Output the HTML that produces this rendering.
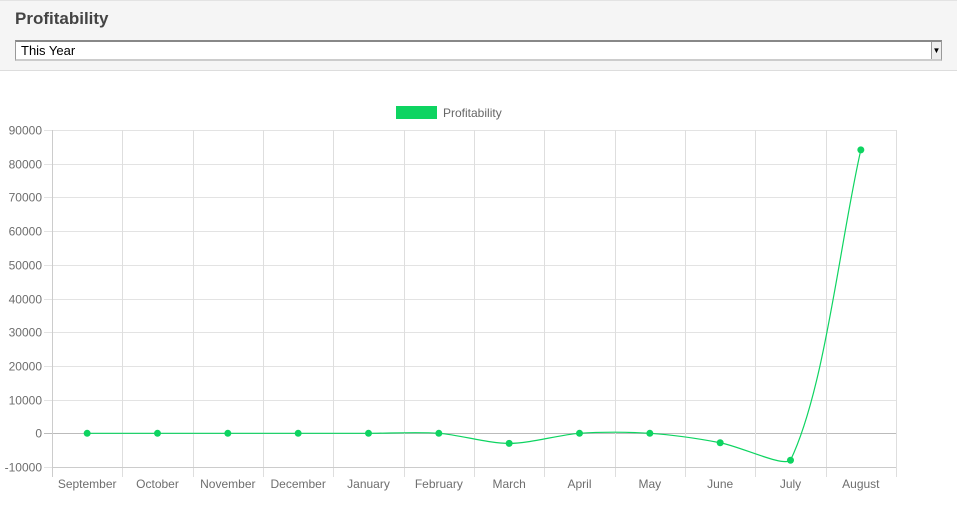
<!DOCTYPE html>
<html><head><meta charset="utf-8"><style>
body{margin:0;width:957px;height:510px;background:#fff;font-family:"Liberation Sans",sans-serif;overflow:hidden;position:relative}
#hdr{position:absolute;left:0;top:0;width:957px;height:71px;background:#f5f5f5;border-top:1px solid #e3e3e3;border-bottom:1px solid #ddd;box-sizing:border-box}
#title{position:absolute;left:15px;top:8px;font-size:17px;font-weight:bold;color:#444}
#sel{position:absolute;left:15px;top:39px;width:927px;height:21px;box-sizing:border-box;background:#fff;border:1px solid #999;border-top:2px solid #888;border-bottom:2px solid #ccc;font-size:13px;line-height:17px;padding-left:5px;color:#000}
#arrow{position:absolute;right:0;top:0;width:9px;height:17px;border-left:1px solid #999;background:#eee;font-size:8px;text-align:center;line-height:17px}
svg{position:absolute;left:0;top:0}
</style></head><body>
<div id="hdr">
<div id="title">Profitability</div>
<div id="sel">This Year<div id="arrow">▼</div></div>
</div>
<svg id="c" width="957" height="510"></svg>
<script>
const categories=["September","October","November","December","January","February","March","April","May","June","July","August"];
const values=[0,0,0,0,0,0,-3000,0,0,-2800,-8000,84100];
const yTicks=[90000,80000,70000,60000,50000,40000,30000,20000,10000,0,-10000];
const svg=document.getElementById('c');const NS='http://www.w3.org/2000/svg';
const L=52,R=896,T=130,B=467,yMax=90000,yMin=-10000;
const bw=(R-L)/categories.length;
const xs=i=>L+bw*(i+0.5);
const ys=v=>T+(yMax-v)/(yMax-yMin)*(B-T);
function mk(t,a,p){const e=document.createElementNS(NS,t);for(const k in a)e.setAttribute(k,a[k]);(p||svg).appendChild(e);return e;}
yTicks.forEach(v=>{const y=Math.round(ys(v))+0.5;
const g=mk('line',{x1:44,x2:R,y1:y,y2:y,stroke:v===0?'#bbb':'#e3e3e3','stroke-width':1});

const t=mk('text',{x:42,y:y+4,'text-anchor':'end','font-size':12,fill:'#6e6e6e','font-family':'Liberation Sans'});t.textContent=v;
});
for(let i=0;i<=categories.length;i++){const x=Math.round(L+bw*i)+0.5;
const g=mk('line',{x1:x,x2:x,y1:T,y2:477,stroke:i===0?'#ccc':'#dedede'});
}
mk('line',{x1:L,x2:R,y1:B+0.5,y2:B+0.5,stroke:'#ccc'});
categories.forEach((c,i)=>{const t=mk('text',{x:xs(i),y:488,'text-anchor':'middle','font-size':12,fill:'#6e6e6e','font-family':'Liberation Sans'});t.textContent=c;
});
const lr=mk('rect',{x:396,y:106,width:41,height:13,fill:'#0ed461'});

const lt=mk('text',{x:443,y:117,'font-size':12,fill:'#666','font-family':'Liberation Sans'});lt.textContent='Profitability';

const pts=values.map((v,i)=>({x:xs(i),y:ys(v)}));const tn=0.3;
const cps=pts.map((p,i)=>{const pr=pts[i-1]||p,nx=pts[i+1]||p;
const d01=Math.hypot(p.x-pr.x,p.y-pr.y),d12=Math.hypot(nx.x-p.x,nx.y-p.y);
let fa=d01/(d01+d12)||0,fb=d12/(d01+d12)||0;fa*=tn;fb*=tn;
return{px:p.x-fa*(nx.x-pr.x),py:Math.min(B,p.y-fa*(nx.y-pr.y)),nx:p.x+fb*(nx.x-pr.x),ny:Math.min(B,p.y+fb*(nx.y-pr.y))};});
let d='M'+pts[0].x+','+pts[0].y;
for(let i=1;i<pts.length;i++){d+=' C'+cps[i-1].nx+','+cps[i-1].ny+' '+cps[i].px+','+cps[i].py+' '+pts[i].x+','+pts[i].y;}
const ln=mk('path',{d:d,fill:'none',stroke:'#0ed461','stroke-width':1.2});

pts.forEach(p=>{const c=mk('circle',{cx:p.x,cy:p.y,r:3.5,fill:'#0ed461'});
});
</script>
</body></html>
